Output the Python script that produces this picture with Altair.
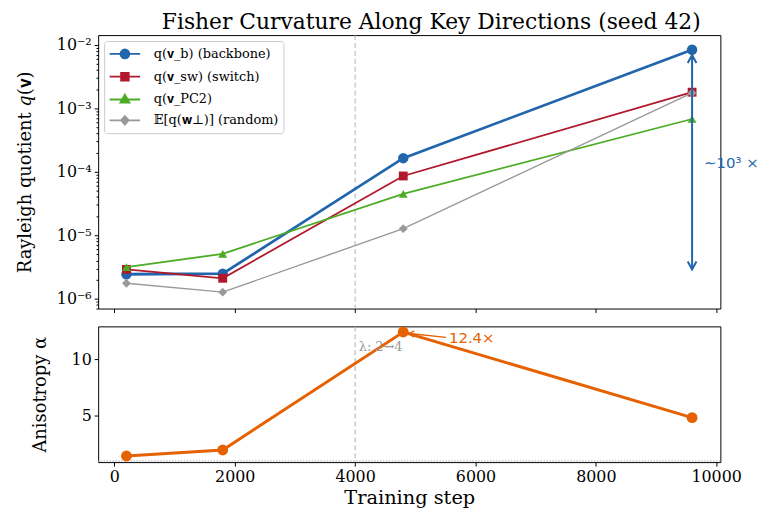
import altair as alt
import pandas as pd

# ---------------- data ----------------
steps = [200, 1800, 4800, 9600]
q_backbone = [2.43e-6, 2.48e-6, 1.64e-4, 8.4e-3]
q_switch = [2.9e-6, 2.1e-6, 8.6e-5, 1.8e-3]
q_pc2 = [3.14e-6, 5.1e-6, 4.5e-5, 6.8e-4]
q_random = [1.75e-6, 1.27e-6, 1.27e-5, 1.75e-3]
anisotropy = [1.44, 1.97, 12.4, 4.83]

series_names = ["q(𝐯_b) (backbone)", "q(𝐯_sw) (switch)", "q(𝐯_PC2)", "𝔼[q(𝐰⊥)] (random)"]
series_values = [q_backbone, q_switch, q_pc2, q_random]
series_colors = ["#2166ac", "#b2182b", "#4dac26", "#999999"]
series_shapes = ["circle", "square", "triangle-up", "diamond"]
series_sizes = [110, 80, 80, 80]
series_widths = [2.8, 1.8, 1.8, 1.4]

transition_step = [4000]
transition_label = ["λ: 2→4"]
ratio_arrow = {"step": [9600], "top": [6.9e-3], "bottom": [2.9e-6]}
ratio_label = {"step": [9800], "q": [1.4e-4], "text": ["∼10³ ×"]}
peak_label = {"step": [5560], "a": [11.83], "text": ["12.4×"]}
peak_arrow = {"step": [5510], "a": [11.92], "step2": [4900], "a2": [12.27]}
isotropic_level = [1.0]

x_ticks = [0, 2000, 4000, 6000, 8000, 10000]

SERIF = "DejaVu Serif"
SANS = "DejaVu Sans"
ORANGE = "#e66101"
BLUE = "#2166ac"
W = 628

# ---------------- scales / axes ----------------
x_scale = alt.Scale(domain=[-270, 10070], nice=False, zero=False)
y_lo, y_hi = 7.0e-7, 1.43e-2
y_scale = alt.Scale(type="log", domain=[y_lo, y_hi], nice=False)

y_tick_vals = []
for k in range(-7, -1):
    for m in range(1, 10):
        v = float(f"{m}e{k}")
        if y_lo <= v <= y_hi:
            y_tick_vals.append(v)

E = "round(log(datum.value)/LN10)"
is_major = f"abs(log(datum.value)/LN10 - {E}) < 0.001"
sup = {-7: "⁻⁷", -6: "⁻⁶", -5: "⁻⁵", -4: "⁻⁴", -3: "⁻³", -2: "⁻²", -1: "⁻¹"}
chain = "".join(f"{E} == {k} ? '10{v}' : " for k, v in sup.items()) + "''"
label_expr = f"{is_major} ? ({chain}) : ''"

x_axis_top = alt.Axis(values=x_ticks, labels=False, title=None, grid=False, domain=False, tickSize=4)
y_axis_top = alt.Axis(values=y_tick_vals, labelExpr=label_expr,
                      tickSize={"condition": {"test": is_major, "value": 4}, "value": 2.2},
                      title="Rayleigh quotient 𝑞(𝐯)", grid=False, domain=False, titlePadding=22)

# ---------------- top panel ----------------
layers = []
vline = alt.Chart(pd.DataFrame({"step": transition_step})).mark_rule(
    color="#b0b0b0", strokeDash=[5, 3], strokeWidth=1
).encode(x=alt.X("step:Q", scale=x_scale, axis=x_axis_top))
layers.append(vline)

for name, vals, col, shp, sz, wd in zip(series_names, series_values, series_colors,
                                         series_shapes, series_sizes, series_widths):
    d = pd.DataFrame({"step": steps, "q": vals})
    base = alt.Chart(d)
    line = base.mark_line(color=col, strokeWidth=wd).encode(
        x=alt.X("step:Q", scale=x_scale, axis=x_axis_top),
        y=alt.Y("q:Q", scale=y_scale, axis=y_axis_top),
    )
    pts = base.mark_point(shape=shp, size=sz, filled=True, color=col, opacity=1).encode(
        x="step:Q", y="q:Q"
    )
    layers += [line, pts]

# legend layer (invisible marks, legend symbols = line + marker)
legend_paths = [
    "M-2.2,0H2.2M0.64,0A0.64,0.64 0 1,1 -0.64,0A0.64,0.64 0 1,1 0.64,0Z",
    "M-2.2,0H2.2M-0.55,-0.55H0.55V0.55H-0.55Z",
    "M-2.2,0H2.2M0,-0.7L0.65,0.45H-0.65Z",
    "M-2.2,0H2.2M0,-0.62L0.55,0L0,0.62L-0.55,0Z",
]
rows = []
for name, vals in zip(series_names, series_values):
    for s, v in zip(steps, vals):
        rows.append({"series": name, "step": s, "q": v})
legend_df = pd.DataFrame(rows)
leg = alt.Legend(title=None, orient="top-left", offset=6, padding=5,
                 strokeColor="#cccccc", fillColor="white", cornerRadius=3,
                 labelFont=SERIF, labelFontSize=13, labelColor="black", labelLimit=400,
                 symbolSize=196, symbolStrokeWidth=1.8, symbolOffset=8, labelOffset=21,
                 symbolFillColor="#ffffff", rowPadding=6)
legend_layer = alt.Chart(legend_df).mark_point(opacity=0, filled=True).encode(
    x="step:Q", y="q:Q",
    fill=alt.Fill("series:N", scale=alt.Scale(domain=series_names, range=series_colors), legend=leg),
    stroke=alt.Stroke("series:N", scale=alt.Scale(domain=series_names, range=series_colors), legend=leg),
    shape=alt.Shape("series:N", scale=alt.Scale(domain=series_names, range=legend_paths), legend=leg),
)
layers.append(legend_layer)

arr = alt.Chart(pd.DataFrame(ratio_arrow))
layers.append(arr.mark_rule(color=BLUE, strokeWidth=2).encode(x="step:Q", y="top:Q", y2="bottom:Q"))
layers.append(arr.mark_point(shape="M-0.55,1L0,0L0.55,1", size=256, filled=False, color=BLUE,
                             strokeWidth=2, opacity=1).encode(x="step:Q", y="top:Q"))
layers.append(arr.mark_point(shape="M-0.55,-1L0,0L0.55,-1", size=256, filled=False, color=BLUE,
                             strokeWidth=2, opacity=1).encode(x="step:Q", y="bottom:Q"))
layers.append(alt.Chart(pd.DataFrame(ratio_label)).mark_text(
    align="left", baseline="middle", font=SANS, fontSize=15, color=BLUE
).encode(x="step:Q", y="q:Q", text="text:N"))

top = alt.layer(*layers).properties(width=W, height=276)

# ---------------- bottom panel ----------------
y_scale_b = alt.Scale(domain=[0.9, 12.9], nice=False, zero=False)
x_axis_b = alt.Axis(values=x_ticks, format="d", title="Training step", grid=False, domain=False,
                    tickSize=4, titleFontSize=19.5)
y_axis_b = alt.Axis(values=[5, 10], title="Anisotropy α", grid=False, domain=False, tickSize=4, titlePadding=22)

b_layers = []
b_layers.append(alt.Chart(pd.DataFrame({"step": transition_step})).mark_rule(
    color="#b0b0b0", strokeDash=[5, 3], strokeWidth=1
).encode(x=alt.X("step:Q", scale=x_scale, axis=x_axis_b)))
b_layers.append(alt.Chart(pd.DataFrame({"a": isotropic_level})).mark_rule(
    color="#aaaaaa", strokeDash=[1.5, 1.5], strokeWidth=1
).encode(y=alt.Y("a:Q", scale=y_scale_b, axis=y_axis_b)))
ad = alt.Chart(pd.DataFrame({"step": steps, "a": anisotropy}))
b_layers.append(ad.mark_line(color=ORANGE, strokeWidth=3).encode(
    x=alt.X("step:Q", scale=x_scale, axis=x_axis_b),
    y=alt.Y("a:Q", scale=y_scale_b, axis=y_axis_b)))
b_layers.append(ad.mark_point(shape="circle", size=120, filled=True, color=ORANGE, opacity=1).encode(
    x="step:Q", y="a:Q"))
b_layers.append(alt.Chart(pd.DataFrame({"step": [4060], "a": [11.1], "text": transition_label})).mark_text(
    align="left", baseline="middle", font=SERIF, fontSize=13, color="#999999"
).encode(x="step:Q", y="a:Q", text="text:N"))
pa = alt.Chart(pd.DataFrame(peak_arrow))
b_layers.append(pa.mark_rule(color=ORANGE, strokeWidth=1.3).encode(
    x="step:Q", y="a:Q", x2="step2:Q", y2="a2:Q"))
b_layers.append(pa.mark_point(shape="M1.2,-0.8L0,0L1.2,0.8", size=64, filled=False, color=ORANGE,
                              strokeWidth=1.3, opacity=1, angle=6).encode(x="step2:Q", y="a2:Q"))
b_layers.append(alt.Chart(pd.DataFrame(peak_label)).mark_text(
    align="left", baseline="middle", font=SANS, fontSize=15, color=ORANGE
).encode(x="step:Q", y="a:Q", text="text:N"))

bottom = alt.layer(*b_layers).properties(width=W, height=137)

chart = alt.vconcat(top, bottom, spacing=12).properties(
    title=alt.Title("Fisher Curvature Along Key Directions (seed 42)", font=SERIF, fontSize=22,
                    fontWeight="normal", color="black", anchor="middle", offset=0, dx=44),
    padding={"left": 8, "top": 1, "right": 0, "bottom": 0},
).configure_view(stroke="black", strokeWidth=1).configure_axis(
    labelFont=SERIF, titleFont=SERIF, labelColor="black", titleColor="black",
    tickColor="black", titleFontWeight="normal", labelFontSize=16, titleFontSize=18,
    labelPadding=3,
)

chart.save("out.html", embed_options={"renderer": "svg", "actions": False})
